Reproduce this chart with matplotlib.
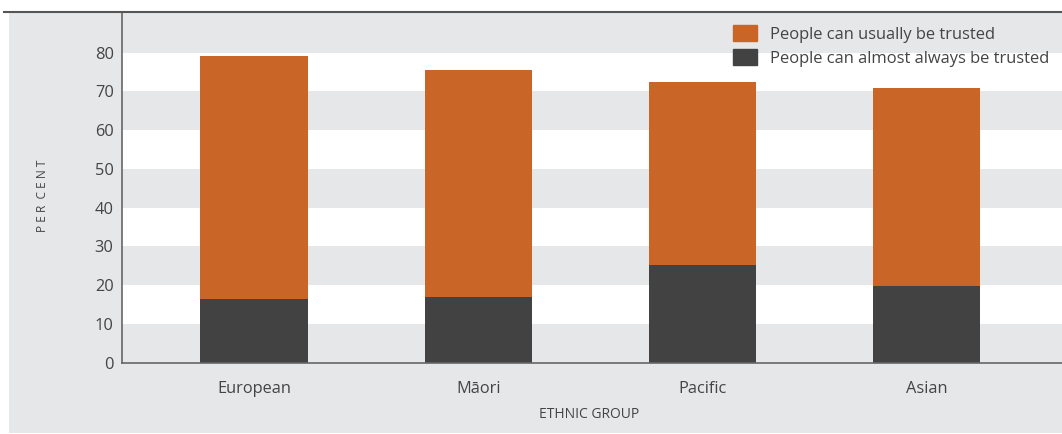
import numpy as np
import matplotlib
matplotlib.use('Agg')
import matplotlib.pyplot as plt
from matplotlib.patches import Rectangle, Patch
from matplotlib.lines import Line2D

# 民族グループ別の信頼度 (%)
groups = ['European', 'Māori', 'Pacific', 'Asian']
almost_always = [16.4, 17.0, 25.2, 19.8]
usually = [62.7, 58.5, 47.2, 51.1]
yticks = [0, 10, 20, 30, 40, 50, 60, 70, 80]

ORANGE = '#c96627'
DARK = '#424242'
PANEL = '#e6e7e8'
TEXT = '#444444'

plt.rcParams['font.family'] = ['Open Sans', 'DejaVu Sans']

fig = plt.figure(figsize=(10.62, 4.34), dpi=100)
fig.patch.set_facecolor('white')

# 背景パネルと上部の罫線
fig.patches.append(Rectangle((9 / 1062, 1 / 434), 1 - 9 / 1062, 421 / 434,
                             transform=fig.transFigure, facecolor=PANEL,
                             edgecolor='none', zorder=-10))
fig.lines.append(Line2D([4 / 1062, 1], [(434 - 11.5) / 434] * 2,
                        transform=fig.transFigure, color='#555555', lw=1.5))

ax = fig.add_axes([122 / 1062, (434 - 362.7) / 434, 1 - 122 / 1062, (362.7 - 12) / 434])
ax.set_facecolor('none')

# 白い横縞
for lo in range(10, 90, 20):
    ax.axhspan(lo, lo + 10, color='white', lw=0, zorder=0)

x = np.arange(len(groups))
w = 0.48
ax.bar(x, almost_always, w, color=DARK, zorder=2, label='People can almost always be trusted')
ax.bar(x, usually, w, bottom=almost_always, color=ORANGE, zorder=2,
       label='People can usually be trusted')

ax.set_xlim(-0.59, 3.605)
ax.set_ylim(0, 90.5)
ax.set_yticks(yticks)
ax.set_xticks(x)
ax.set_xticklabels(groups)
ax.tick_params(length=0, labelsize=11.8, colors=TEXT)
ax.tick_params(axis='x', pad=13)
ax.tick_params(axis='y', pad=6)

for side in ['top', 'right']:
    ax.spines[side].set_visible(False)
for side in ['left', 'bottom']:
    ax.spines[side].set_color('#666666')
    ax.spines[side].set_linewidth(1.2)

fig.text(589 / 1062, 1 - 414 / 434, 'ETHNIC GROUP', ha='center', va='center',
         fontsize=10, color=TEXT)
fig.text(43 / 1062, 1 - 196 / 434, 'P E R  C E N T', rotation=90,
         ha='center', va='center', fontsize=8.6, color=TEXT)

handles = [Patch(color=ORANGE), Patch(color=DARK)]
labels = ['People can usually be trusted', 'People can almost always be trusted']
fig.legend(handles, labels, loc='upper left', bbox_to_anchor=(725 / 1062, 1 - 17 / 434),
           frameon=False, fontsize=11.9, handlelength=1.45, handleheight=1.1,
           handletextpad=0.75, labelspacing=0.4, labelcolor=TEXT, borderpad=0)

fig.savefig('out.png', dpi=100)
